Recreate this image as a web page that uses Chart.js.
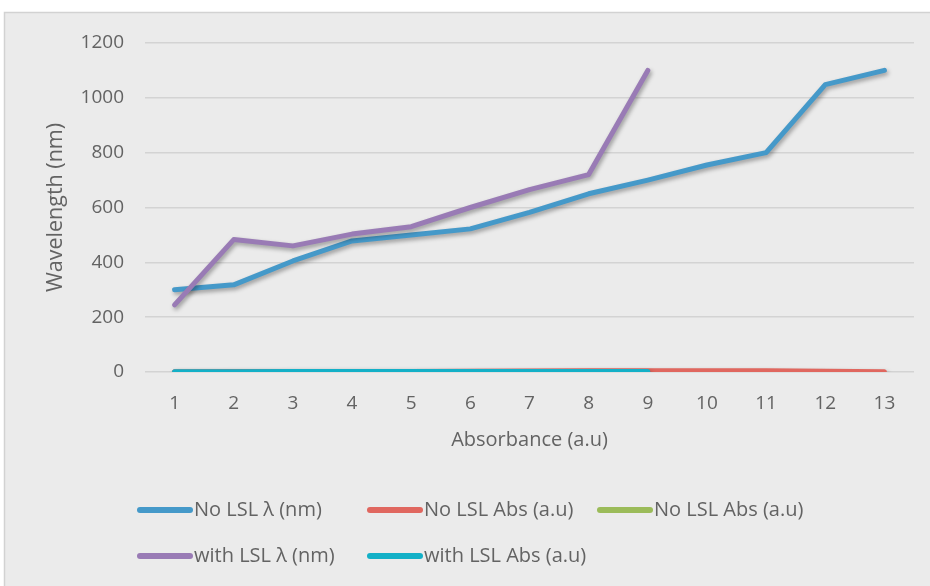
<!DOCTYPE html>
<html>
<head>
<meta charset="utf-8">
<script src="https://cdn.jsdelivr.net/npm/chart.js@4/dist/chart.umd.min.js"></script>
<style>
  html, body { margin: 0; padding: 0; background: #ffffff; }
  #wrap { width: 930px; height: 586px; position: relative; }
</style>
</head>
<body>
<div id="wrap"><canvas id="c" width="930" height="586"></canvas></div>
<script>
// Sample index along the x axis
const categories = ['1','2','3','4','5','6','7','8','9','10','11','12','13'];

// Wavelength readings (nm)
const noLslWavelength   = [300, 318, 405, 478, 500, 522, 582, 650, 700, 755, 800, 1048, 1100];
const withLslWavelength = [245, 483, 460, 503, 530, 600, 665, 720, 1100];

// Absorbance readings (a.u)
const noLslAbs      = [1.2, 1.5, 1.8, 2.0, 2.2, 2.5, 3.8, 4.5, 4.8, 5.0, 4.8, 2.5, 1.2];
const noLslAbsB     = [];
const withLslAbs    = [1.0, 1.2, 1.4, 1.5, 1.6, 1.8, 2.0, 2.1, 2.2];

// Value axis ticks
const yTicks = [0, 200, 400, 600, 800, 1000, 1200];

const seriesNames = ['No LSL λ (nm)', 'No LSL Abs (a.u)', 'No LSL Abs (a.u)', 'with LSL λ (nm)', 'with LSL Abs (a.u)'];
const seriesColors = ['#4599C9', '#E0675F', '#9BBB59', '#997BB5', '#13B0C7'];

const FONT = '"Open Sans", sans-serif';
const TEXT = '#636363';

function ds(i, data, order) {
  return {
    label: seriesNames[i],
    data: data,
    borderColor: seriesColors[i],
    backgroundColor: seriesColors[i],
    borderWidth: 5,
    pointRadius: 0,
    pointHoverRadius: 0,
    tension: 0,
    fill: false,
    borderCapStyle: 'round',
    borderJoinStyle: 'round',
    order: order
  };
}

// Panel background with a thin frame
const panelBg = {
  id: 'panelBg',
  beforeDraw(chart) {
    const ctx = chart.ctx;
    ctx.save();
    ctx.fillStyle = '#ffffff';
    ctx.fillRect(0, 0, chart.width, chart.height);
    ctx.fillStyle = '#EBEBEB';
    ctx.fillRect(4, 12, chart.width - 4, chart.height - 12);
    ctx.strokeStyle = '#D2D2D2';
    ctx.lineWidth = 1.5;
    ctx.beginPath();
    ctx.moveTo(4.5, chart.height);
    ctx.lineTo(4.5, 12.5);
    ctx.lineTo(chart.width, 12.5);
    ctx.stroke();
    ctx.restore();
  }
};

// Soft drop shadow under each line
const lineShadow = {
  id: 'lineShadow',
  beforeDatasetDraw(chart) {
    const ctx = chart.ctx;
    ctx.save();
    ctx.shadowColor = 'rgba(0,0,0,0.35)';
    ctx.shadowBlur = 4;
    ctx.shadowOffsetX = 1.5;
    ctx.shadowOffsetY = 2.5;
  },
  afterDatasetDraw(chart) {
    chart.ctx.restore();
  }
};

// Legend laid out in fixed columns below the plot
const gridLegend = {
  id: 'gridLegend',
  afterDraw(chart) {
    const ctx = chart.ctx;
    const cols = [137, 367, 597];
    const rows = [510, 556];
    ctx.save();
    ctx.font = '20px ' + FONT;
    ctx.textBaseline = 'middle';
    ctx.textAlign = 'left';
    chart.data.datasets.forEach((d, i) => {
      const x = cols[i % 3];
      const y = rows[Math.floor(i / 3)];
      ctx.strokeStyle = d.borderColor;
      ctx.lineWidth = 6;
      ctx.lineCap = 'round';
      ctx.beginPath();
      ctx.moveTo(x + 3, y);
      ctx.lineTo(x + 53, y);
      ctx.stroke();
      ctx.fillStyle = TEXT;
      ctx.fillText(d.label, x + 57, y);
    });
    ctx.restore();
  }
};

new Chart(document.getElementById('c'), {
  type: 'line',
  data: {
    labels: categories,
    datasets: [
      ds(0, noLslWavelength, 5),
      ds(1, noLslAbs, 4),
      ds(2, noLslAbsB, 3),
      ds(3, withLslWavelength, 2),
      ds(4, withLslAbs, 1)
    ]
  },
  options: {
    responsive: false,
    animation: false,
    devicePixelRatio: 1,
    layout: { padding: { left: 38, right: 16, top: 43, bottom: 124 } },
    plugins: {
      legend: { display: false },
      tooltip: { enabled: false }
    },
    scales: {
      x: {
        type: 'category',
        offset: true,
        grid: { display: false, drawTicks: false },
        border: { display: false },
        ticks: { color: TEXT, font: { family: FONT, size: 19 }, padding: 20, maxRotation: 0, autoSkip: false },
        title: { display: true, text: 'Absorbance (a.u)', color: TEXT, font: { family: FONT, size: 20 }, padding: { top: 0, bottom: 10 } },
        afterFit(s) { s.height = 90; }
      },
      y: {
        min: 0,
        max: 1200,
        afterBuildTicks(s) { s.ticks = yTicks.map(v => ({ value: v })); },
        grid: { color: '#D3D3D3', lineWidth: 1.5, drawTicks: false },
        border: { display: false },
        ticks: { color: TEXT, font: { family: FONT, size: 19 }, padding: 21, callback: v => String(v) },
        title: { display: true, text: 'Wavelength (nm)', color: TEXT, font: { family: FONT, size: 21.5 }, padding: { top: 5, bottom: 0 } },
        afterFit(s) { s.width = 107; }
      }
    }
  },
  plugins: [panelBg, lineShadow, gridLegend]
});
</script>
</body>
</html>
